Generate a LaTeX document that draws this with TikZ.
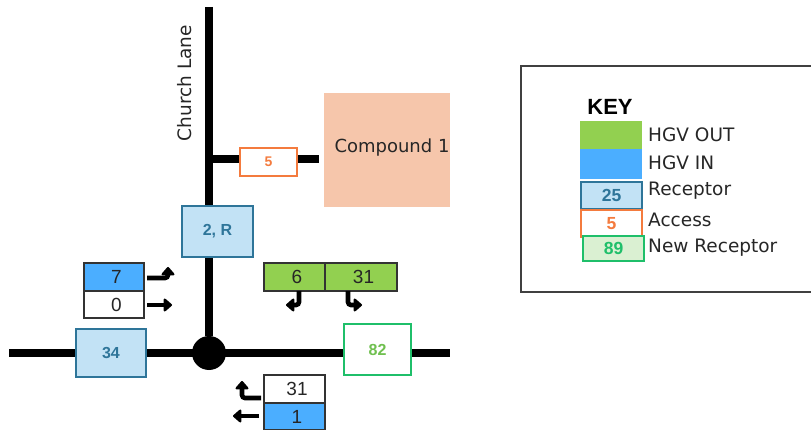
\documentclass[tikz,border=0pt]{standalone}
\usepackage{fontspec}
\setmainfont{Liberation Sans}
\newfontfamily\lblfont{DejaVu Sans}
\usetikzlibrary{arrows.meta,positioning}
\definecolor{hgvout}{HTML}{92D050}
\definecolor{hgvin}{HTML}{4BAEFF}
\definecolor{recfill}{HTML}{C2E2F5}
\definecolor{recline}{HTML}{2E7599}
\definecolor{accline}{HTML}{F47B3E}
\definecolor{newline}{HTML}{1FBF6A}
\definecolor{newtext}{HTML}{70C050}
\definecolor{newfill}{HTML}{DAF0D2}
\definecolor{compfill}{HTML}{F6C6AB}
\tikzset{
  x=1pt,y=-1pt,
  sz/.style 2 args={minimum width=#1pt,minimum height=#2pt},
  road/.style={line width=8pt,black},
  turn/.style={line width=4.6pt,black,-{Triangle[length=9pt,width=15pt,round]},rounded corners=3pt},
  bx/.style={draw,inner sep=0pt,outer sep=0pt,anchor=north west},
  cnt/.style={bx,draw=black!80,line width=1.2pt,font=\fontsize{19}{19}\selectfont,text=black!85},
  recbox/.style={bx,fill=recfill,draw=recline,line width=1.2pt,text=recline,font=\bfseries\fontsize{16}{16}\selectfont},
  accbox/.style={bx,fill=white,draw=accline,line width=1.2pt,text=accline,font=\bfseries\fontsize{14}{14}\selectfont},
  newbox/.style={bx,fill=white,draw=newline,line width=1.2pt,text=newtext,font=\bfseries\fontsize{16}{16}\selectfont},
  keylab/.style={anchor=west,inner sep=0pt,font=\lblfont\fontsize{18.5}{18.5}\selectfont,text=black!85},
  biglab/.style={inner sep=0pt,font=\lblfont\fontsize{18}{18}\selectfont,text=black!85},
  keynum/.style={font=\bfseries\fontsize{17.5}{17.5}\selectfont},
}
\begin{document}
\begin{tikzpicture}
\useasboundingbox (0,0) rectangle (811,430);
% roads
\coordinate (nEnd) at (209,7);
\coordinate (wEnd) at (9,353);
\coordinate (eEnd) at (450,353);
\coordinate (accJ) at (209,159);
\coordinate (accE) at (319,159);
\node[circle,fill=black,minimum size=34pt,inner sep=0pt] (junction) at (209,353) {};
\draw[road] (nEnd) -- (junction);
\draw[road] (wEnd) -- (eEnd);
\draw[road] (accJ) -- (accE);
% compound
\node[bx,fill=compfill,sz={126}{114},draw=none] (comp) at (324,93) {};
\node[biglab] (compt) at (392,148) {Compound 1};
\node[biglab,rotate=90,font=\lblfont\fontsize{18.5}{18.5}\selectfont] (church) at (185,83) {Church Lane};
% receptors
\node[accbox,sz={57}{28}] (acc) at (240,148) {5};
\node[recbox,sz={71}{51}] (r2) at (182,206) {2, R};
\node[recbox,sz={70}{48}] (r34) at (76,329) {34};
\node[newbox,sz={67}{51}] (r82) at (344,324) {82};
% counts
\node[cnt,fill=hgvin,sz={60}{28}] (c7) at (84,263) {\hspace{5pt}7};
\node[cnt,fill=white,sz={60}{27}] (c0) at (84,291) {\hspace{5pt}0};
\node[cnt,fill=hgvout,sz={61}{28}] (c6) at (264,263) {\hspace{5pt}6};
\node[cnt,fill=hgvout,sz={72}{28}] (c31o) at (325,263) {\hspace{5pt}31};
\node[cnt,fill=white,sz={61}{28}] (c31i) at (264,375) {\hspace{5pt}31};
\node[cnt,fill=hgvin,sz={61}{27}] (c1) at (264,403) {\hspace{5pt}1};
% turn arrows
\coordinate (a7) at (168,267);
\coordinate (a0) at (172,305);
\coordinate (a6) at (286,305);
\coordinate (a31) at (362,305);
\coordinate (a31i) at (242,381);
\coordinate (a1) at (233,416);
\draw[turn] (147,278) -| (a7);
\draw[turn] (147,305) -- (a0);
\draw[turn] (299,291) |- (a6);
\draw[turn] (348,291) |- (a31);
\draw[turn] (261,398) -| (a31i);
\draw[turn] (259,416) -- (a1);
% key
\node[bx,draw=black!75,line width=1.2pt,sz={300}{226}] (frame) at (521,66) {};
\node[inner sep=0pt,font=\bfseries\fontsize{22}{22}\selectfont] (keyt) at (610,107) {KEY};
\node[bx,fill=hgvout,sz={62}{28},draw=none] (kout) at (580,121) {};
\node[bx,fill=hgvin,sz={62}{30},draw=none] (kin) at (580,149) {};
\node[recbox,sz={61}{27},keynum] (k25) at (581,182) {25};
\node[accbox,sz={61}{27},keynum] (k5) at (581,210) {5};
\node[newbox,fill=newfill,text=newline,sz={61}{25},keynum] (k89) at (583,236) {89};
\node[keylab] (l1) at (648,135) {HGV OUT};
\node[keylab] (l2) at (648,163) {HGV IN};
\node[keylab] (l3) at (648,191) {Receptor};
\node[keylab] (l4) at (648,220) {Access};
\node[keylab] (l5) at (648,248) {New Receptor};
\end{tikzpicture}
\end{document}
